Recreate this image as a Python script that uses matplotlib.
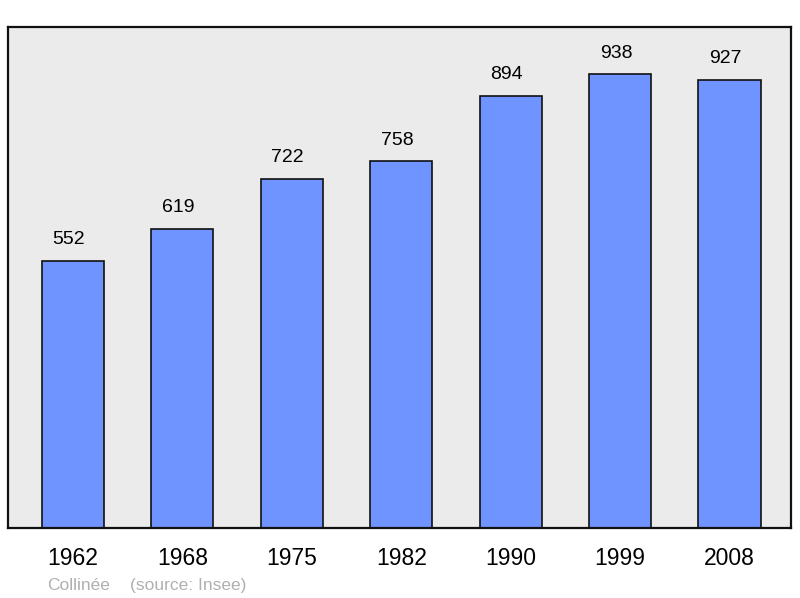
import matplotlib
matplotlib.use("Agg")
import matplotlib.pyplot as plt

years = ["1962", "1968", "1975", "1982", "1990", "1999", "2008"]
population = [552, 619, 722, 758, 894, 938, 927]

plt.rcParams['font.family'] = ['Liberation Sans', 'DejaVu Sans']

fig = plt.figure(figsize=(8, 5.98), dpi=100)
ax = fig.add_axes([8/800, 1-528/598, 783/800, (528-27)/598])
ax.set_facecolor('#ebebeb')

x = list(range(len(years)))
bars = ax.bar(x, population, width=0.567, color='#7094ff', edgecolor='#111111', linewidth=1.2, zorder=2)
for xi, v in zip(x, population):
    ax.annotate(str(v), (xi, v), xytext=(-3, 12), textcoords='offset points',
                ha='center', va='baseline', fontsize=14, color='#000000')

ax.set_xlim(-0.594, 6.562)
ax.set_ylim(0, 1036)
ax.set_yticks([])
ax.set_xticks(x)
ax.set_xticklabels(years, fontsize=16.5)
ax.tick_params(axis='x', length=0, pad=14)
for s in ax.spines.values():
    s.set_linewidth(1.6)
    s.set_color('#111111')

fig.text(47/800, 1-590/598, "Collinée", fontsize=12.5, color='#b0b0b0', va='baseline')
fig.text(130/800, 1-590/598, "(source: Insee)", fontsize=12.5, color='#b0b0b0', va='baseline')

fig.savefig("out.png", dpi=100)
